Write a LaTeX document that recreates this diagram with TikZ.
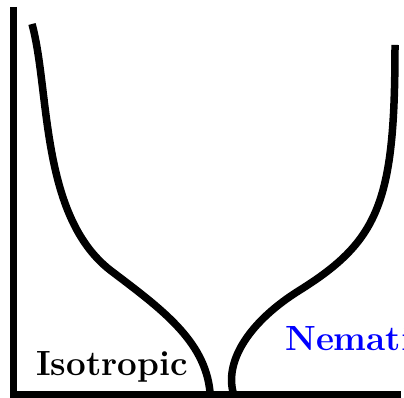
\documentclass[tikz,border=0pt]{standalone}
\begin{document}
\begin{tikzpicture}[x=1pt,y=-1pt,
  curve/.style={line width=7.5pt, line cap=butt},
  phase/.style={font=\fontsize{35}{40}\selectfont\bfseries, inner sep=0pt}]
\useasboundingbox (0,0) rectangle (404,398);
\clip (0,0) rectangle (404,398);
\fill[white] (0,0) rectangle (404,398);
% axes
\coordinate (top) at (13,7);
\coordinate (origin) at (13,394);
\coordinate (right) at (401,394);
\draw[curve, line width=7pt] (top) -- (origin) -- (right);
% left boundary
\coordinate (l0) at (32,24);
\coordinate (l1) at (110,270);
\coordinate (l2) at (210,392);
\draw[curve] (l0) .. controls (50,90) and (40,215) .. (l1)
                  .. controls (160,308) and (205,340) .. (l2);
% right boundary
\coordinate (r0) at (395,45);
\coordinate (r1) at (300,290);
\coordinate (r2) at (233,392);
\draw[curve] (r0) .. controls (395,200) and (380,240) .. (r1)
                  .. controls (250,321) and (225,360) .. (r2);
\node[phase, anchor=base west] (iso) at (36,375) {Isotropic};
\node[phase, anchor=base west, text={rgb,255:red,0;green,0;blue,255}] (nem) at (285,350) {Nematic};
\end{tikzpicture}
\end{document}
